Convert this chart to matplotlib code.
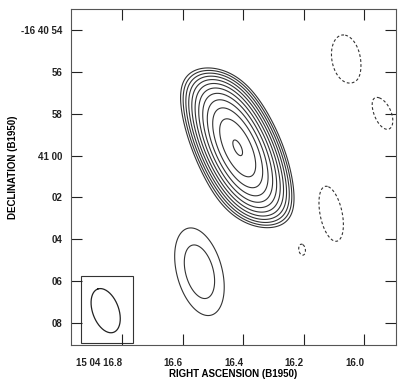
import numpy as np
import matplotlib
matplotlib.use('Agg')
import matplotlib.pyplot as plt
from matplotlib.patches import Rectangle

plt.rcParams['font.family'] = ['Liberation Sans', 'DejaVu Sans']
plt.rcParams['font.weight'] = 'bold'

# components of the map: RA seconds (15 04 xx), Dec seconds (-16 40 xx)
comp_ra = [16.4186, 16.545, 16.0604, 15.9343, 16.1101, 16.2063]
comp_dec = [59.63, 65.55, 55.38, 58.1, 62.78, 64.5]
comp_amp = [46.5, 1.74, -1.3, -1.3, -1.3, -1.3]
comp_smin = [0.73, 1.02, 0.93, 0.47, 0.73, 0.19]   # arcsec
comp_smaj = [1.74, 2.04, 1.59, 0.88, 1.85, 0.33]
comp_pa = [25, 15, 10, 20, 12, 10]                  # deg east of north
comp_cut = [3.8, 0, 0, 0, 0, 0]                     # north-south cut-off, arcsec

pos_levels = 2 ** (np.arange(12) / 2)
neg_levels = [-1]

# restoring beam (semi axes, arcsec)
beam_ra, beam_dec = 16.855, 67.41
beam_a, beam_b, beam_pa = 1.1, 0.62, 20
box_ra = [16.936, 16.7635]
box_dec = [65.74, 68.94]

xticks = [16.8, 16.6, 16.4, 16.2, 16.0]
xlabels = ['15 04 16.8', '16.6', '16.4', '16.2', '16.0']
yticks = [54, 56, 58, 60, 62, 64, 66, 68]
ylabels = ['-16 40 54', '56', '58', '41 00', '02', '04', '06', '08']

sec_to_arcsec = 15 * np.cos(np.radians(16.68))

ra = np.linspace(15.895, 16.97, 500)
dec = np.linspace(53.0, 69.05, 500)
RA, DEC = np.meshgrid(ra, dec)
img = np.zeros_like(RA)
for r0, d0, a, sn, sj, pa, cut in zip(comp_ra, comp_dec, comp_amp, comp_smin, comp_smaj,
                                      comp_pa, comp_cut):
    e = (RA - r0) * sec_to_arcsec
    n = -(DEC - d0)
    p = np.radians(pa)
    u = e * np.sin(p) + n * np.cos(p)
    v = e * np.cos(p) - n * np.sin(p)
    q = (u / sj) ** 2 + (v / sn) ** 2
    if cut > 0:
        q += 2 * (np.abs(n) / cut) ** 6
    img += a * np.exp(-0.5 * q)

fig = plt.figure(figsize=(4.05, 3.83), dpi=100)
ax = fig.add_axes([0.175, 0.0992, 0.803, 0.8773])
ax.contour(RA, DEC, img, levels=pos_levels, colors='#333333', linewidths=0.8)
cn = ax.contour(RA, DEC, img, levels=neg_levels, colors='#333333', linewidths=0.8)
cn.set_linestyle((0, (2.5, 2)))

t = np.linspace(0, 2 * np.pi, 200)
p = np.radians(beam_pa)
u = beam_a * np.cos(t)
v = beam_b * np.sin(t)
ax.plot(beam_ra + (u * np.sin(p) + v * np.cos(p)) / sec_to_arcsec,
        beam_dec - (u * np.cos(p) - v * np.sin(p)), color='#222222', lw=0.9)
ax.add_patch(Rectangle((box_ra[0], box_dec[0]), box_ra[1] - box_ra[0], box_dec[1] - box_dec[0],
                       fill=False, ec='#333333', lw=0.8))

ax.set_xlim(16.97, 15.895)
ax.set_ylim(69.05, 53.0)
ax.set_xticks(xticks)
ax.set_xticklabels(xlabels, ha='right')
ax.set_yticks(yticks)
ax.set_yticklabels(ylabels)
ax.tick_params(direction='in', length=8, width=0.8, top=True, right=True,
               labelsize=7, colors='#222222')
ax.tick_params(axis='x', pad=9)
ax.tick_params(axis='y', pad=6)
for s in ax.spines.values():
    s.set_linewidth(0.8)
    s.set_color('#555555')
ax.set_xlabel('RIGHT ASCENSION (B1950)', fontsize=7, fontweight='bold', labelpad=1)
ax.set_ylabel('DECLINATION (B1950)', fontsize=7, fontweight='bold')
ax.yaxis.set_label_coords(-0.163, 0.53)

fig.savefig('out.png', dpi=100)
